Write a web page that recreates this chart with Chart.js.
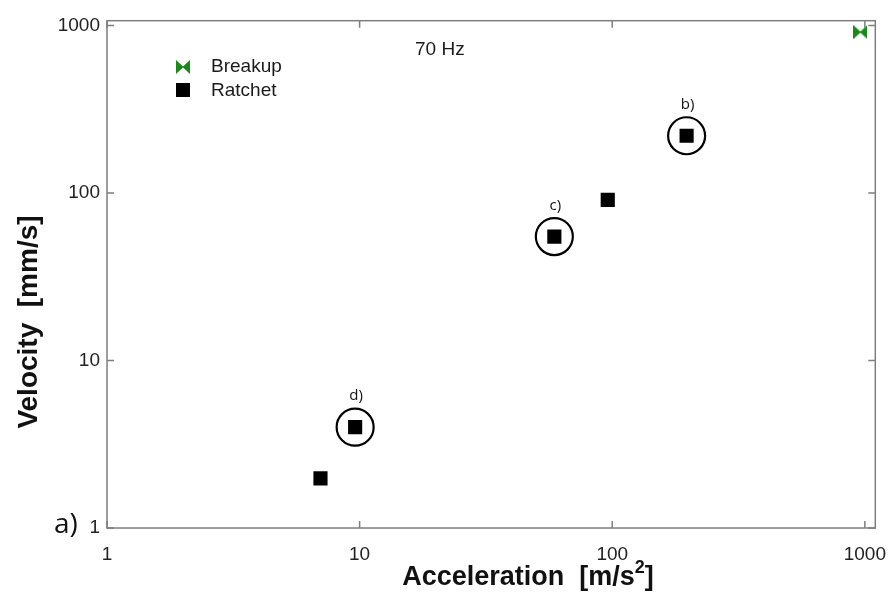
<!DOCTYPE html>
<html><head><meta charset="utf-8">
<script src="https://cdn.jsdelivr.net/npm/chart.js@4/dist/chart.umd.min.js"></script>
<style>html,body{margin:0;padding:0;background:#fff}canvas{display:block}</style>
</head><body>
<canvas id="c" width="896" height="597"></canvas>
<script>
// ---- data ----
const ratchetAccel = [7, 9.6, 59, 96, 197];
const ratchetVel = [1.98, 4.0, 55, 91, 220];
const breakupAccel = [960];
const breakupVel = [915];
const circledAccel = [9.6, 59, 197];
const circledVel = [4.0, 55, 220];
const circledLabels = ['d)', 'c)', 'b)'];
const xTickValues = [1, 10, 100, 1000];
const yTickValues = [1, 10, 100, 1000];
const seriesNames = ['Breakup', 'Ratchet'];
const frequencyLabel = '70 Hz';
const panelLabel = 'a)';
const xTitleParts = ['Acceleration  [m/s', '2', ']'];
const yTitle = 'Velocity  [mm/s]';

const SANS = '"Liberation Sans", Arial, sans-serif';
const GREEN = '#178a17';

function makeBowtie(color, w, h) {
  const c = document.createElement('canvas');
  c.width = w; c.height = h;
  const g = c.getContext('2d');
  g.fillStyle = color;
  g.beginPath(); g.moveTo(0, 0); g.lineTo(w / 2 + 0.5, h / 2); g.lineTo(0, h); g.closePath(); g.fill();
  g.beginPath(); g.moveTo(w, 0); g.lineTo(w / 2 - 0.5, h / 2); g.lineTo(w, h); g.closePath(); g.fill();
  return c;
}
const bowtie = makeBowtie(GREEN, 14, 14);

const frame = {
  id: 'frame',
  beforeDatasetsDraw(chart) {
    const { ctx, chartArea: a, scales: { x, y } } = chart;
    ctx.save();
    ctx.strokeStyle = '#7f7f7f';
    ctx.lineWidth = 1.5;
    ctx.strokeRect(a.left, a.top, a.right - a.left, a.bottom - a.top);
    const tl = 7;
    ctx.beginPath();
    xTickValues.forEach(v => {
      const px = x.getPixelForValue(v);
      ctx.moveTo(px, a.bottom); ctx.lineTo(px, a.bottom - tl);
      ctx.moveTo(px, a.top); ctx.lineTo(px, a.top + tl);
    });
    yTickValues.forEach(v => {
      const py = y.getPixelForValue(v);
      ctx.moveTo(a.left, py); ctx.lineTo(a.left + tl, py);
      ctx.moveTo(a.right, py); ctx.lineTo(a.right - tl, py);
    });
    ctx.stroke();
    ctx.restore();
  },
  afterDraw(chart) {
    const { ctx, scales: { x, y } } = chart;
    ctx.save();
    // circle labels
    ctx.fillStyle = '#111';
    ctx.font = '15px "Open Sans", sans-serif';
    ctx.textAlign = 'center';
    ctx.textBaseline = 'alphabetic';
    circledLabels.forEach((t, i) => {
      ctx.fillText(t, x.getPixelForValue(circledAccel[i]) + 1, y.getPixelForValue(circledVel[i]) - 27);
    });
    // frequency label
    ctx.font = '19px ' + SANS;
    ctx.fillStyle = '#1a1a1a';
    ctx.textBaseline = 'middle';
    ctx.textAlign = 'left';
    ctx.fillText(frequencyLabel, 415, 50);
    // legend
    ctx.drawImage(bowtie, 183 - 7, 67 - 7);
    ctx.fillStyle = '#000';
    ctx.fillRect(183 - 7, 90 - 7, 14, 14);
    ctx.fillStyle = '#1a1a1a';
    ctx.fillText(seriesNames[0], 211, 67);
    ctx.fillText(seriesNames[1], 211, 91);
    // panel label
    ctx.font = '28px "Open Sans", sans-serif';
    ctx.textBaseline = 'alphabetic';
    ctx.fillStyle = '#111';
    ctx.fillText(panelLabel, 54, 533);
    // y title
    ctx.font = 'bold 28px ' + SANS;
    ctx.save();
    ctx.translate(37, 322);
    ctx.rotate(-Math.PI / 2);
    ctx.textAlign = 'center';
    ctx.fillText(yTitle, 0, 0);
    ctx.restore();
    // x title with superscript
    const bigF = 'bold 27px ' + SANS, supF = 'bold 18px ' + SANS;
    ctx.font = bigF; const w1 = ctx.measureText(xTitleParts[0]).width; const w3 = ctx.measureText(xTitleParts[2]).width;
    ctx.font = supF; const w2 = ctx.measureText(xTitleParts[1]).width;
    let sx = 528 - (w1 + w2 + w3) / 2;
    const by = 585;
    ctx.textAlign = 'left';
    ctx.font = bigF; ctx.fillText(xTitleParts[0], sx, by); sx += w1;
    ctx.font = supF; ctx.fillText(xTitleParts[1], sx, by - 12); sx += w2;
    ctx.font = bigF; ctx.fillText(xTitleParts[2], sx, by);
    ctx.restore();
  }
};

new Chart(document.getElementById('c'), {
  type: 'scatter',
  data: {
    datasets: [
      { label: seriesNames[0], data: breakupAccel.map((v, i) => ({ x: v, y: breakupVel[i] })),
        pointStyle: bowtie, pointRadius: 7, backgroundColor: GREEN, borderColor: GREEN },
      { label: seriesNames[1], data: ratchetAccel.map((v, i) => ({ x: v, y: ratchetVel[i] })),
        pointStyle: 'rect', pointRadius: 10, backgroundColor: '#000', borderColor: '#000', borderWidth: 0 },
      { label: 'circled', data: circledAccel.map((v, i) => ({ x: v, y: circledVel[i] })),
        pointStyle: 'circle', pointRadius: 18.5, backgroundColor: 'rgba(0,0,0,0)', borderColor: '#000', borderWidth: 2.2 }
    ]
  },
  options: {
    responsive: false, animation: false, devicePixelRatio: 1, events: [],
    layout: { padding: { top: 15, right: 19, left: 0, bottom: 0 } },
    plugins: { legend: { display: false }, tooltip: { enabled: false } },
    scales: {
      x: {
        type: 'logarithmic', min: 1, max: 1100, position: 'bottom',
        afterBuildTicks: s => { s.ticks = xTickValues.map(v => ({ value: v })); },
        afterFit: s => { s.height = 69; s.paddingLeft = 0; s.paddingRight = 0; },
        grid: { display: false, drawTicks: false }, border: { display: false },
        ticks: { font: { family: SANS, size: 19 }, color: '#222', padding: 15, maxRotation: 0, autoSkip: false,
          callback: v => String(v) }
      },
      y: {
        type: 'logarithmic', min: 1, max: 1070, position: 'left',
        afterBuildTicks: s => { s.ticks = yTickValues.map(v => ({ value: v })); },
        afterFit: s => { s.width = 107; s.paddingTop = 0; s.paddingBottom = 0; },
        grid: { display: false, drawTicks: false }, border: { display: false },
        ticks: { font: { family: SANS, size: 19 }, color: '#222', padding: 7, autoSkip: false,
          callback: v => String(v) }
      }
    }
  },
  plugins: [frame]
});
</script>
</body></html>
